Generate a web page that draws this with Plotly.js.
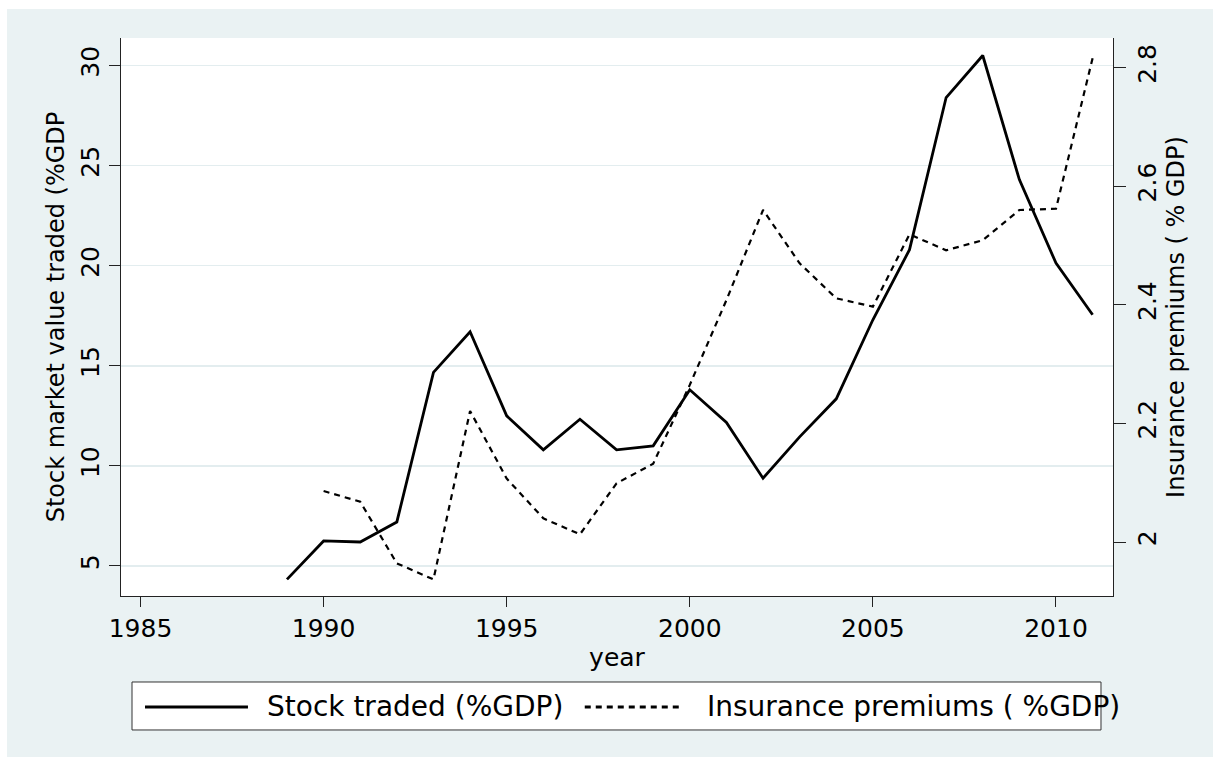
<!DOCTYPE html>
<html>
<head>
<meta charset="utf-8">
<script src="https://cdn.plot.ly/plotly-3.0.1.min.js"></script>
<style>
  html, body { margin: 0; padding: 0; background: #ffffff; }
  #chart { position: absolute; left: 7px; top: 9px; width: 1206px; height: 748px; }
</style>
</head>
<body>
<div id="chart"></div>
<script>
// ---- data ----
const stockYears = [1989, 1990, 1991, 1992, 1993, 1994, 1995, 1996, 1997, 1998, 1999, 2000,
                    2001, 2002, 2003, 2004, 2005, 2006, 2007, 2008, 2009, 2010, 2011];
const stockTraded = [4.33, 6.25, 6.2, 7.2, 14.67, 16.7, 12.5, 10.8, 12.33, 10.8, 11.0, 13.8,
                     12.17, 9.38, 11.45, 13.35, 17.3, 20.8, 28.4, 30.5, 24.3, 20.13, 17.55];
const insYears = [1990, 1991, 1992, 1993, 1994, 1995, 1996, 1997, 1998, 1999, 2000,
                  2001, 2002, 2003, 2004, 2005, 2006, 2007, 2008, 2009, 2010, 2011];
const insurance = [2.086, 2.068, 1.964, 1.937, 2.221, 2.107, 2.040, 2.013, 2.099, 2.132, 2.265,
                   2.408, 2.560, 2.470, 2.411, 2.397, 2.519, 2.492, 2.509, 2.560, 2.562, 2.816];
const xTicks = [1985, 1990, 1995, 2000, 2005, 2010];
const yLeftTicks = [5, 10, 15, 20, 25, 30];
const yRightTicks = [2, 2.2, 2.4, 2.6, 2.8];
const yRightLabels = ['2', '2.2', '2.4', '2.6', '2.8'];
const seriesNames = ['Stock traded (%GDP)', 'Insurance premiums ( %GDP)'];

const FONT = 'DejaVu Sans, Arial, sans-serif';
const AX = '#222222';

const traces = [
  { x: stockYears, y: stockTraded, type: 'scatter', mode: 'lines', name: seriesNames[0],
    line: { color: '#000000', width: 2.8 }, yaxis: 'y' },
  { x: insYears, y: insurance, type: 'scatter', mode: 'lines', name: seriesNames[1],
    line: { color: '#000000', width: 2.2, dash: '6px,5px' }, yaxis: 'y2' }
];

// legend drawn as a Stata-style box (paper coordinates relative to the plot area)
const legendShapes = [
  { type: 'rect', xref: 'paper', yref: 'paper', x0: 0.0111, x1: 0.9879, y0: -0.2401, y1: -0.1541,
    fillcolor: '#ffffff', line: { color: '#333333', width: 1 } },
  { type: 'line', xref: 'paper', yref: 'paper', x0: 0.0242, x1: 0.1280, y0: -0.1989, y1: -0.1989,
    line: { color: '#000000', width: 3 } },
  { type: 'line', xref: 'paper', yref: 'paper', x0: 0.4675, x1: 0.5670, y0: -0.1989, y1: -0.1989,
    line: { color: '#000000', width: 3, dash: '6px,5px' } }
];
const legendNotes = [
  { xref: 'paper', yref: 'paper', x: 0.1452, y: -0.1989, xanchor: 'left', yanchor: 'middle',
    text: seriesNames[0], showarrow: false, font: { family: FONT, size: 28, color: '#000' } },
  { xref: 'paper', yref: 'paper', x: 0.5884, y: -0.1989, xanchor: 'left', yanchor: 'middle',
    text: seriesNames[1], showarrow: false, font: { family: FONT, size: 28, color: '#000' } }
];

const layout = {
  width: 1206, height: 748,
  margin: { l: 114, r: 100, t: 29, b: 161, pad: 0 },
  paper_bgcolor: '#eaf2f3',
  plot_bgcolor: '#ffffff',
  showlegend: false,
  font: { family: FONT, color: '#000000' },
  xaxis: {
    range: [1984.467, 2011.557], tickvals: xTicks, ticks: 'outside', ticklen: 10,
    tickwidth: 1, tickcolor: AX, showline: true, linecolor: AX, linewidth: 1,
    showgrid: false, zeroline: false, tickfont: { family: FONT, size: 25, color: '#000' },
    title: { text: 'year', font: { family: FONT, size: 25, color: '#000' }, standoff: 6 }
  },
  yaxis: {
    range: [3.501, 31.374], tickvals: yLeftTicks, tickangle: -90, ticks: 'outside', ticklen: 11,
    tickwidth: 1, tickcolor: AX, showline: true, linecolor: AX, linewidth: 1,
    showgrid: true, gridcolor: '#e3edef', gridwidth: 1.5, zeroline: false,
    tickfont: { family: FONT, size: 25, color: '#000' },
    title: { text: 'Stock market value traded (%GDP', font: { family: FONT, size: 24, color: '#000' }, standoff: 4 }
  },
  yaxis2: {
    overlaying: 'y', side: 'right', range: [1.909, 2.850], tickvals: yRightTicks, ticktext: yRightLabels,
    tickangle: -90, ticks: 'outside', ticklen: 12, tickwidth: 1, tickcolor: AX,
    showline: true, linecolor: AX, linewidth: 1, showgrid: false, zeroline: false,
    tickfont: { family: FONT, size: 25, color: '#000' },
    title: { text: 'Insurance premiums ( % GDP)', font: { family: FONT, size: 24, color: '#000' }, standoff: 4 }
  },
  shapes: legendShapes,
  annotations: legendNotes
};

Plotly.newPlot('chart', traces, layout, { displayModeBar: false, staticPlot: true });
</script>
</body>
</html>
